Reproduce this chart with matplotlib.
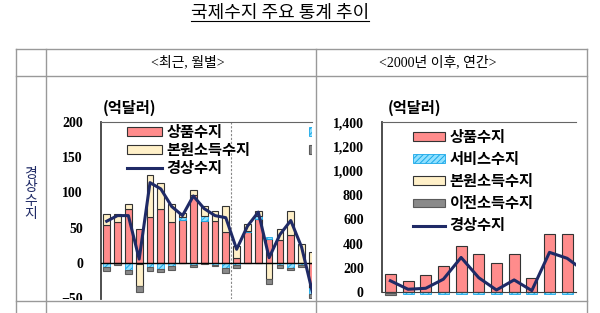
import numpy as np
import matplotlib
matplotlib.use('Agg')
import matplotlib.pyplot as plt
from matplotlib.patches import Rectangle, Patch
from matplotlib.lines import Line2D

plt.rcParams['font.family'] = ['Noto Sans CJK KR', 'DejaVu Sans']
plt.rcParams['hatch.linewidth'] = 0.7

# monthly (left panel), 억달러
m_goods = [54, 58, 77, 48, 65, 76, 58, 61, 97, 60, 60, 44, 7, 43, 62, 33, 32, 39, 0, -36]
m_serv = [-6, -1, -10, -2, -6, -9, -5, 4, -4, 6, -4, -8, -4, 2, 5, 4, -4, -7, -3, -9]
m_prim = [15, 11, 7, -32, 60, 37, 26, 5, 7, 14, 13, 36, 16, 10, 6, -24, 16, 34, 27, 15]
m_trans = [-6, -3, -6, -8, -6, -5, -5, -1, -2, -2, -1, -7, -3, -1, -1, -6, -3, -4, -3, -5]
m_ca = [59, 67, 67, 5, 114, 105, 80, 67, 95, 77, 67, 64, 19, 52, 72, 7, 40, 60, 22, -42]

# yearly since 2000 (right panel), 억달러
years = ['2000', '2001', '2002', '2003', '2004', '2005', '2006', '2007', '2008', '2009', '2010']
y_goods = [150, 91, 140, 217, 385, 318, 243, 318, 114, 479, 479]
y_serv = [-5, -15, -15, -15, -15, -15, -15, -15, -15, -15, -15]
y_prim = [0, 0, 0, 0, 0, 0, 0, 0, 0, 0, 0]
y_trans = [-15, 0, 0, 0, 0, 0, 0, 0, 0, 0, 0]
y_ca = [95, 25, 33, 108, 287, 120, 19, 102, 14, 329, 280, 172]

labels = ['상품수지', '서비스수지', '본원소득수지', '이전소득수지', '경상수지']

W, H = 600, 313
fig = plt.figure(figsize=(6, 3.13), dpi=100)


def fx(x):
    return x / W


def fy(y):
    return 1 - y / H


def box(x0, y0, x1, y1):
    return [fx(x0), fy(y1), fx(x1) - fx(x0), fy(y0) - fy(y1)]


styles = [
    dict(facecolor='#FF8C8C', edgecolor='#333333', linewidth=0.8),
    dict(facecolor='#8FE0FF', edgecolor='#1AA8E8', linewidth=0.6, hatch='//////'),
    dict(facecolor='#FFF0C8', edgecolor='#333333', linewidth=0.8),
    dict(facecolor='#8A8A8A', edgecolor='#5A5A5A', linewidth=0.8),
]
line_color = '#1F2A66'
num_font = dict(family='Liberation Serif', weight='bold', size=10)
head_family = ['Liberation Serif', 'Noto Sans CJK KR']


def stacked(ax, series, clip=True):
    n = len(series[0])
    x = np.arange(n)
    pos = np.zeros(n)
    neg = np.zeros(n)
    for vals, st in zip(series, styles):
        v = np.asarray(vals, float)
        base = np.where(v >= 0, pos, neg)
        m = v != 0
        if m.any():
            ax.bar(x[m], v[m], bottom=base[m], width=0.62, clip_on=clip, zorder=2, **st)
        pos += np.where(v > 0, v, 0)
        neg += np.where(v < 0, v, 0)


def handles():
    h = [Patch(label=l, **s) for l, s in zip(labels[:4], styles)]
    h.append(Line2D([], [], color=line_color, lw=2.2, label=labels[4]))
    return h


# ---- left panel
ax1 = fig.add_axes(box(101, 122.3, 312, 299))
stacked(ax1, [m_goods, m_serv, m_prim, m_trans])
ax1.plot(np.arange(len(m_ca)), m_ca, color=line_color, lw=2.2, zorder=4)
ax1.axhline(0, color='black', lw=1.0, zorder=3)
ax1.axvline(11.5, color='#888888', lw=0.8, ls=(0, (2, 1.5)), zorder=1)
ax1.set_xlim(-0.526, 18.96)
ax1.set_ylim(-51.9, 200)
ax1.set_yticks([-50, 0, 50, 100, 150, 200])
ax1.set_xticks([])
for t in ax1.get_yticklabels():
    t.set_fontproperties(num_font)
ax1.tick_params(axis='y', length=0, pad=13)
for s in ['right', 'bottom']:
    ax1.spines[s].set_visible(False)
ax1.spines['left'].set_color('#404040')
ax1.spines['left'].set_linewidth(1.3)
ax1.spines['top'].set_color('#666666')

# second legend column is cut off by the cell edge in the reference
h = handles()
leg1 = ax1.legend([h[0], h[2], h[4], h[1], h[3]],
                  [labels[0], labels[2], labels[4], '', ''],
                  ncol=2, loc='upper left', frameon=False,
                  bbox_to_anchor=(fx(127), fy(124)), bbox_transform=fig.transFigure,
                  prop=dict(size=11, weight='bold'), handlelength=2.3, handleheight=0.5,
                  handletextpad=0.3, labelspacing=0.13, columnspacing=3.8,
                  borderpad=0, borderaxespad=0)
for a in leg1.findobj():
    if a is not leg1:
        a.set_clip_box(ax1.bbox)
        a.set_clip_on(True)

fig.text(fx(103), fy(108), '(억달러)', ha='left', va='center', size=11, weight='bold')

# ---- right panel
ax2 = fig.add_axes(box(381.7, 122.3, 576, 292.3))
stacked(ax2, [y_goods, y_serv, y_prim, y_trans], clip=False)
ax2.plot(np.arange(len(y_ca)), y_ca, color=line_color, lw=2.2, zorder=4)
ax2.set_xlim(-0.49, 10.5)
ax2.set_ylim(0, 1400)
ax2.set_yticks(range(0, 1401, 200))
ax2.set_yticklabels([f'{v:,}' for v in range(0, 1401, 200)])
ax2.set_xticks([])
for t in ax2.get_yticklabels():
    t.set_fontproperties(num_font)
ax2.tick_params(axis='y', length=0, pad=13)
ax2.spines['right'].set_visible(False)
ax2.spines['left'].set_color('#404040')
ax2.spines['left'].set_linewidth(1.3)
ax2.spines['bottom'].set_color('#404040')
ax2.spines['top'].set_color('#666666')
ax2.legend(handles=handles(), loc='upper left', frameon=False,
           bbox_to_anchor=(fx(413), fy(129)), bbox_transform=fig.transFigure,
           prop=dict(size=11, weight='bold'), handlelength=2.1, handleheight=0.5,
           handletextpad=0.3, labelspacing=0.4, borderpad=0, borderaxespad=0)

fig.text(fx(388), fy(108), '(억달러)', ha='left', va='center', size=11, weight='bold')

# ---- table frame
fig.add_artist(Rectangle((fx(17), 0), fx(569), fy(300), transform=fig.transFigure,
                         facecolor='white', edgecolor='none', zorder=10))
grid = dict(color='#999999', lw=1.0, zorder=11, transform=fig.transFigure)
for y in [49, 76, 301]:
    fig.add_artist(Line2D([fx(16), fx(587)], [fy(y), fy(y)], **grid))
for x in [16, 46, 316, 587]:
    fig.add_artist(Line2D([fx(x), fx(x)], [fy(49), fy(313)], **grid))

fig.text(fx(188), fy(62.5), '<최근, 월별>', ha='center', va='center', size=10,
         family=head_family)
fig.text(fx(438), fy(62.5), '<2000년 이후, 연간>', ha='center', va='center', size=10,
         family=head_family)
fig.text(fx(31), fy(194), '경\n상\n수\n지', ha='center', va='center', size=10,
         linespacing=0.95, color=line_color)

title = fig.text(fx(280), fy(13), '국제수지 주요 통계 추이', ha='center', va='center', size=13)
fig.canvas.draw()
bb = title.get_window_extent().transformed(fig.transFigure.inverted())
fig.add_artist(Line2D([bb.x0, bb.x1], [bb.y0 + 0.002, bb.y0 + 0.002], color='black', lw=0.8,
                      transform=fig.transFigure))

fig.savefig('out.png', dpi=100)
